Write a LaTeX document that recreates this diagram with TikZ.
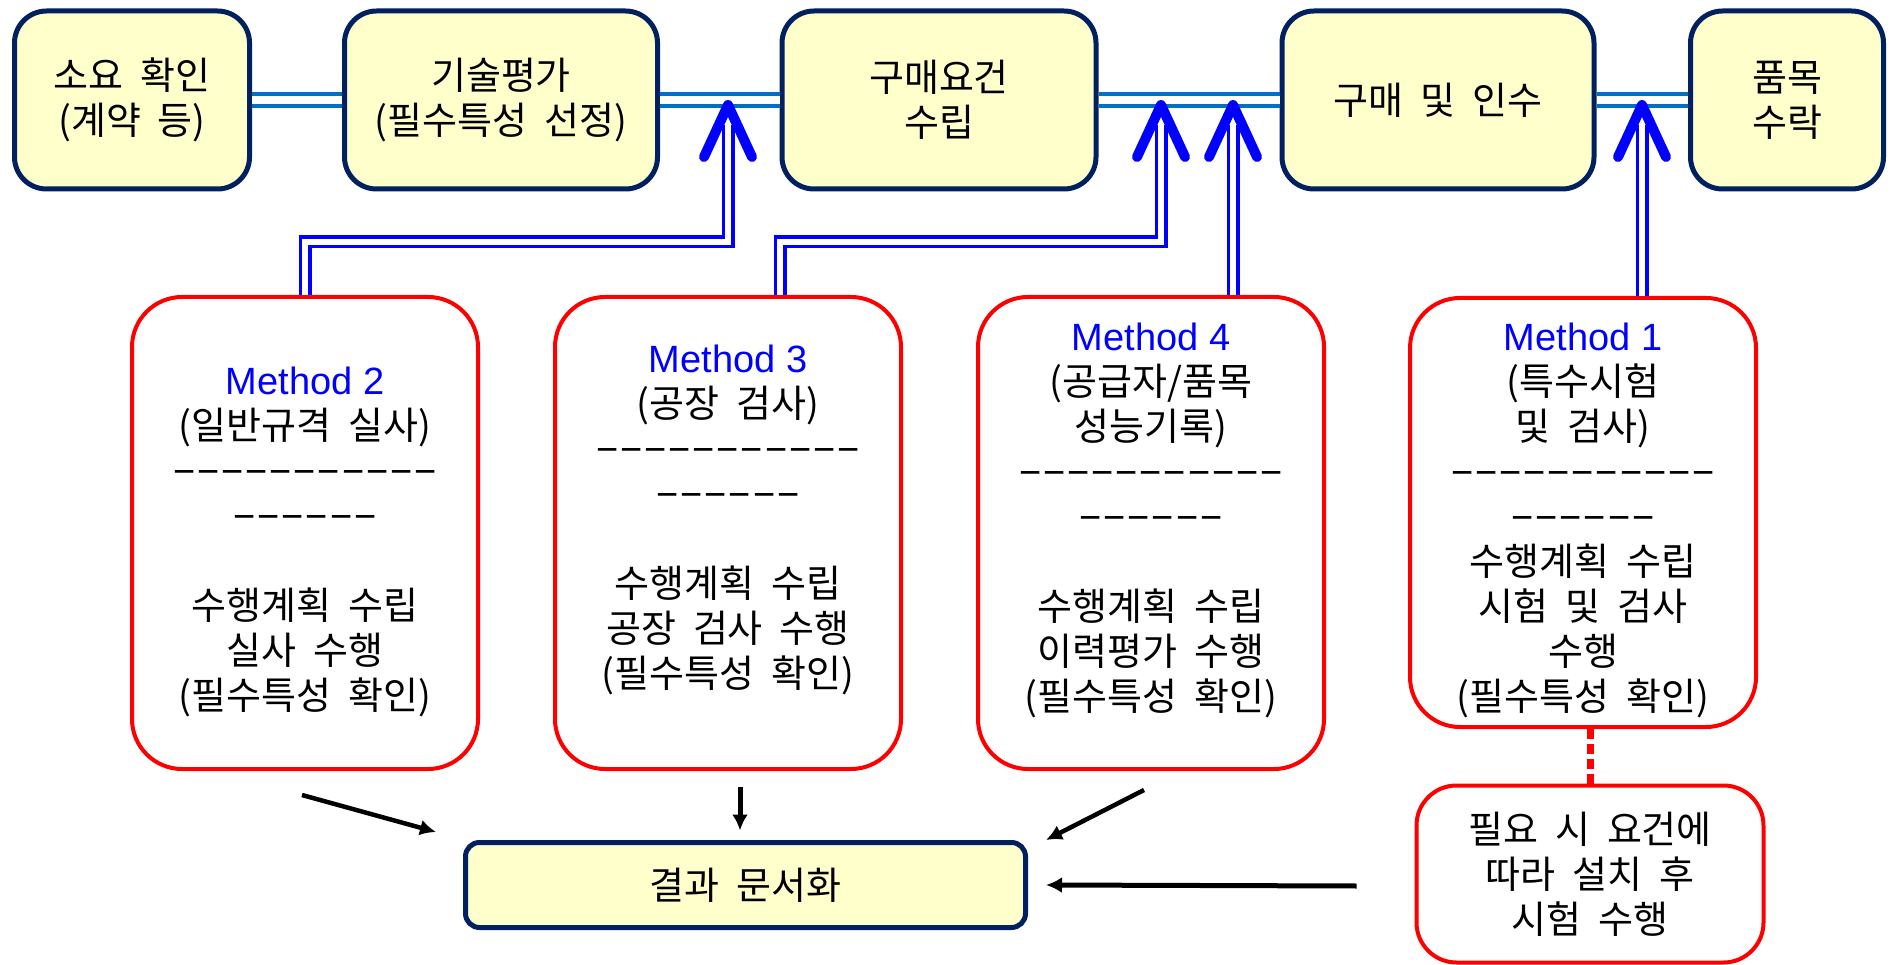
\documentclass[tikz,border=0pt]{standalone}
\usepackage{fontspec}
\setmainfont[WordSpace=2]{Noto Sans CJK KR}
\newfontfamily\latinfont{Liberation Sans}
\newfontfamily\dashfam[LetterSpace=5]{Liberation Sans}
\usetikzlibrary{arrows.meta}
\definecolor{cream}{HTML}{FFFFCC}
\definecolor{navy}{HTML}{002060}
\definecolor{link}{HTML}{0070C0}
\definecolor{meth}{HTML}{0000FF}
\definecolor{chk}{HTML}{FF0000}
\tikzset{
  txt/.style={font=\fontsize{38}{45}\selectfont, align=center, inner sep=0pt},
  stage/.style={txt, draw=navy, line width=5pt, fill=cream, rounded corners=32pt, minimum height=178pt},
  mbox/.style={txt, draw=chk, line width=4pt, rounded corners=50pt, minimum width=346pt},
  link/.style={draw=link, line width=4pt, double=white, double distance=7.5pt},
  feed/.style={draw=meth, line width=3.5pt, double=white, double distance=6pt},
  vtip/.style={draw=meth, line width=10pt, line cap=round, line join=round},
  res/.style={draw=black, -{Latex[length=16pt,width=16pt]}, line width=#1},
  res/.default=5pt,
  tie/.style={draw=chk, line width=7pt, dash pattern=on 10pt off 5pt},
}
\newcommand{\meth}[1]{{\latinfont\color{meth}Method #1}}
\newcommand{\dashrow}[1]{{\dashfam\fontsize{38}{45}\selectfont\foreach \i in {1,...,#1}{−}}}
\newcommand{\vhead}[1]{
  \draw[vtip] ([xshift=-24pt,yshift=-57pt]#1) -- ([yshift=-5pt]#1) -- ([xshift=24pt,yshift=-57pt]#1);
}

\begin{document}
\begin{tikzpicture}[x=1pt, y=-1pt]
  \useasboundingbox (0,0) rectangle (1896,965);

  % process steps
  \node[stage, minimum width=235pt] (s1) at (132,100) {소요 확인\\(계약 등)};
  \node[stage, minimum width=313pt] (s2) at (501,100) {기술평가\\(필수특성 선정)};
  \node[stage, minimum width=314pt] (s3) at (939,100) {구매요건\\수립};
  \node[stage, minimum width=312pt] (s4) at (1438,100) {구매 및 인수};
  \node[stage, minimum width=193pt] (s5) at (1787,100) {품목\\수락};
  \foreach \a/\b in {s1/s2, s2/s3, s3/s4, s4/s5} \draw[link] (\a) -- (\b);

  % where the methods join the line
  \coordinate (t1) at (728,100);
  \coordinate (t2) at (1161,100);
  \coordinate (t3) at (1233,100);
  \coordinate (t4) at (1642,100);

  % methods
  \node[mbox, minimum height=472pt] (m2) at (305,533) {};
  \node[mbox, minimum height=472pt] (m3) at (728,533) {};
  \node[mbox, minimum height=472pt] (m4) at (1151,533) {};
  \node[mbox, minimum height=429pt] (m1) at (1583,512.5) {};
  \node[txt] (m2t) at (305,542) {\meth{2}\\(일반규격 실사)\\\dashrow{11}\\\dashrow{6}\\[45pt]수행계획 수립\\실사 수행\\(필수특성 확인)};
  \node[txt] (m3t) at (728,520) {\meth{3}\\(공장 검사)\\\dashrow{11}\\\dashrow{6}\\[45pt]수행계획 수립\\공장 검사 수행\\(필수특성 확인)};
  \node[txt] (m4t) at (1151,520) {\meth{4}\\(공급자/품목\\성능기록)\\\dashrow{11}\\\dashrow{6}\\[45pt]수행계획 수립\\이력평가 수행\\(필수특성 확인)};
  \node[txt] (m1t) at (1583,520) {\meth{1}\\(특수시험\\및 검사)\\\dashrow{11}\\\dashrow{6}\\수행계획 수립\\시험 및 검사\\수행\\(필수특성 확인)};
  \node[mbox, minimum width=347pt, minimum height=177pt, rounded corners=40pt] (inst) at (1590,874) {필요 시 요건에\\따라 설치 후\\시험 수행};

  % feeds up to the line
  \draw[feed] (m2.north) |- ([yshift=-142pt]t1) -- ([yshift=-25pt]t1);
  \draw[feed] ([xshift=52pt]m3.north) |- ([yshift=-142pt]t2) -- ([yshift=-25pt]t2);
  \draw[feed] ([xshift=82pt]m4.north) -- ([yshift=-25pt]t3);
  \draw[feed] ([xshift=59pt]m1.north) -- ([yshift=-25pt]t4);
  \foreach \t in {t1,t2,t3,t4} {\vhead{\t}}

  % documentation
  \node[stage, minimum width=560pt, minimum height=85pt, rounded corners=14pt] (doc) at (745.5,885) {결과 문서화};
  \draw[res=4.5pt] ([xshift=-3pt,yshift=-24pt]m2.south) -- ([xshift=-27pt,yshift=8pt]doc.north west);
  \draw[res] ([xshift=12pt,yshift=-16pt]m3.south) -- ([xshift=-5.5pt,yshift=9.5pt]doc.north);
  \draw[res=4.5pt] ([xshift=-7pt,yshift=-19pt]m4.south) -- ([xshift=18pt]doc.north east);
  \draw[res] ([xshift=-58pt,yshift=-12pt]inst.west) -- ([xshift=18pt]doc.east);
  \draw[tie] (inst.north) -- (inst.north |- m1.south);
\end{tikzpicture}
\end{document}
